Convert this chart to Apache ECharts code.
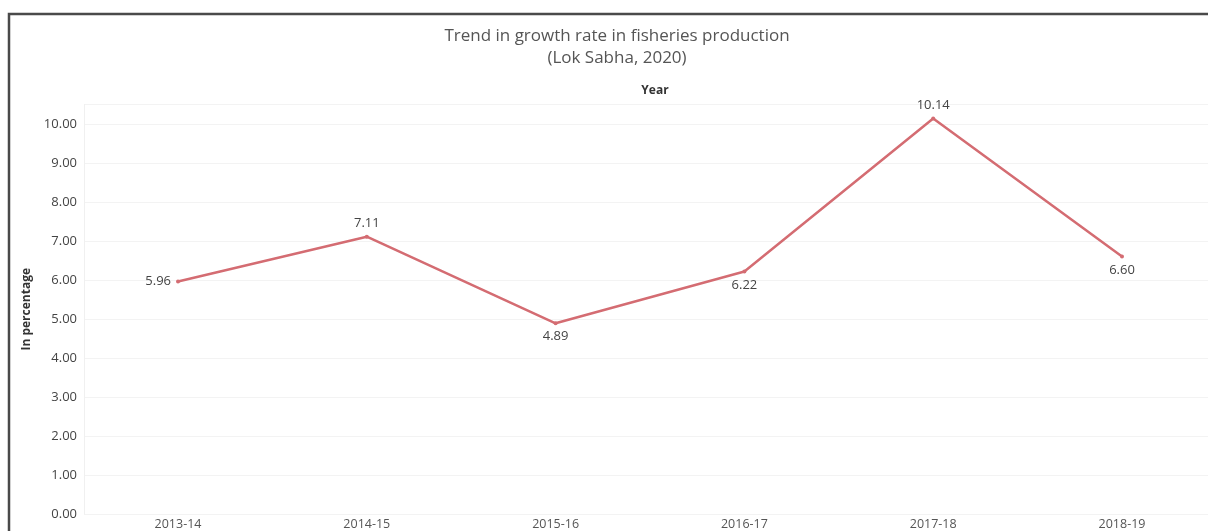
<!DOCTYPE html>
<html>
<head>
<meta charset="utf-8">
<script src="https://cdn.jsdelivr.net/npm/echarts@6/dist/echarts.min.js"></script>
<style>
    html, body { margin: 0; padding: 0; background: #fff; }
    #main { width: 1208px; height: 531px; }
</style>
</head>
<body>
<div id="main"></div>
<script>
// data
var years = ['2013-14', '2014-15', '2015-16', '2016-17', '2017-18', '2018-19'];
var growthRate = [5.96, 7.11, 4.89, 6.22, 10.14, 6.60];

function labelSide(i) {
    if (i === 0) return 'left';
    var v = growthRate[i];
    var prev = growthRate[i - 1];
    var next = i < growthRate.length - 1 ? growthRate[i + 1] : -Infinity;
    return (v > prev && v > next) ? 'top' : 'bottom';
}

var myChart = echarts.init(document.getElementById('main'));
var option = {
    backgroundColor: '#fff',
    textStyle: { fontFamily: 'Open Sans' },
    title: [{
        text: 'Trend in growth rate in fisheries production',
        left: 612,
        textAlign: 'center',
        top: 23,
        textStyle: { fontSize: 17, fontWeight: 'normal', color: '#555' }
    }, {
        text: '(Lok Sabha, 2020)',
        left: 612,
        textAlign: 'center',
        top: 45,
        textStyle: { fontSize: 17, fontWeight: 'normal', color: '#555' }
    }, {
        text: 'Year',
        left: 650,
        textAlign: 'center',
        top: 80,
        textStyle: { fontSize: 12, fontWeight: 'bold', color: '#333' }
    }],
    graphic: [{
        type: 'rect',
        shape: { x: 9, y: 14, width: 1300, height: 600 },
        style: { fill: 'none', stroke: '#4a4a4a', lineWidth: 2.5 },
        silent: true
    }],
    // grid 0: points sit on the category ticks, so it spans first to last year
    // grid 1: only the faint gridlines, spanning the full pane width
    grid: [
        { left: 178, right: 86, top: 104.5, bottom: 17 },
        { left: 84, right: 0, top: 104.5, bottom: 17 }
    ],
    xAxis: [{
        type: 'category',
        gridIndex: 0,
        data: years,
        boundaryGap: false,
        axisLine: { show: false },
        axisTick: { show: false },
        splitLine: { show: false },
        axisLabel: { color: '#555', fontSize: 12.5, margin: 4 }
    }, {
        type: 'value',
        gridIndex: 1,
        show: false
    }],
    yAxis: [{
        type: 'value',
        gridIndex: 0,
        min: 0,
        max: 10.5,
        interval: 1,
        name: 'In percentage',
        nameLocation: 'middle',
        nameGap: 144,
        nameTextStyle: { fontSize: 12, fontWeight: 'bold', color: '#333' },
        axisLine: { show: false },
        axisTick: { show: false },
        splitLine: { show: false },
        axisLabel: {
            color: '#444',
            fontSize: 13,
            margin: 101,
            formatter: function (v) {
                return v % 1 === 0 ? v.toFixed(2) : '';
            }
        }
    }, {
        type: 'value',
        gridIndex: 1,
        min: 0,
        max: 10.5,
        interval: 1,
        axisLine: { show: true, lineStyle: { color: '#f0f0f0' } },
        axisTick: { show: false },
        axisLabel: { show: false },
        splitLine: { lineStyle: { color: '#f3f3f3' } }
    }],
    series: [{
        type: 'line',
        xAxisIndex: 0,
        yAxisIndex: 0,
        data: growthRate.map(function (v, i) {
            return { value: v, label: { position: labelSide(i) } };
        }),
        symbol: 'circle',
        symbolSize: 4,
        lineStyle: { color: '#d46c72', width: 2.5 },
        itemStyle: { color: '#d46c72' },
        label: {
            show: true,
            color: '#444',
            fontSize: 13,
            distance: 5,
            formatter: function (p) { return p.value.toFixed(2); }
        },
        clip: false,
        z: 3
    }]
};
myChart.setOption(option);
</script>
</body>
</html>
